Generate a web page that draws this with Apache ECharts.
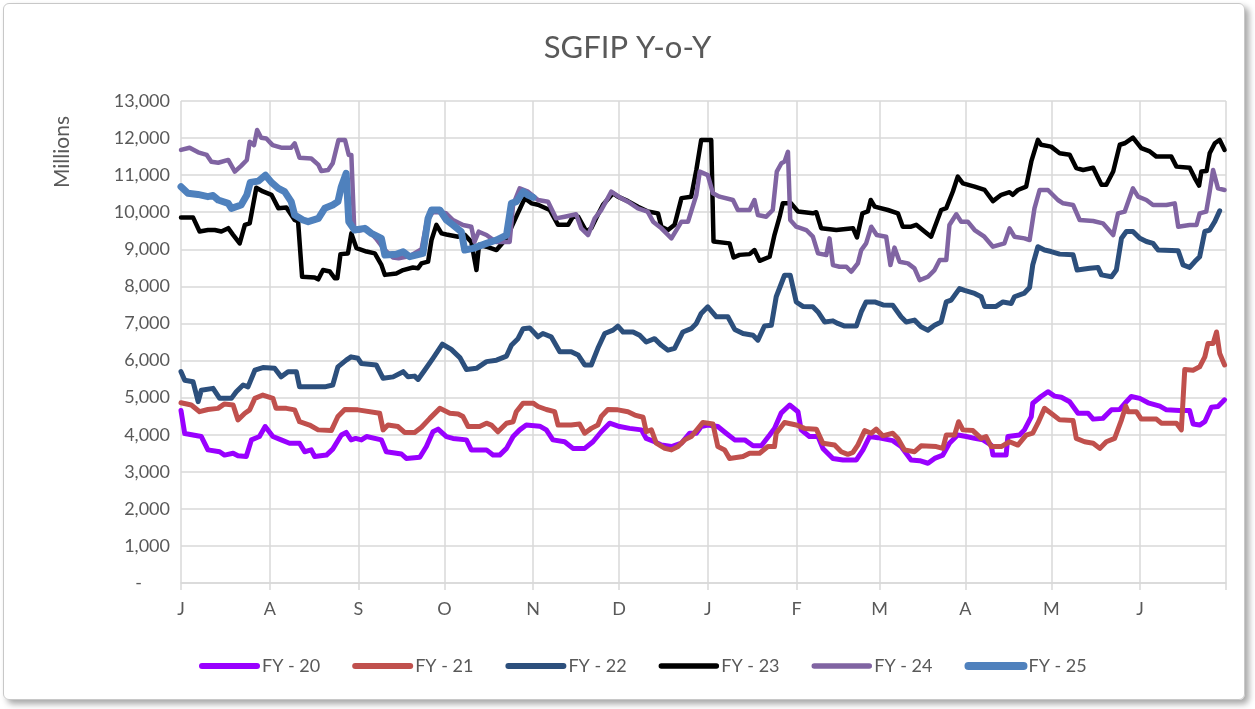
<!DOCTYPE html>
<html>
<head>
<meta charset="utf-8">
<script src="https://cdn.jsdelivr.net/npm/echarts@6/dist/echarts.min.js"></script>
<style>
  html, body { margin: 0; padding: 0; background: #fff; }
  #chart { width: 1255px; height: 709px; }
  #frame {
    position: absolute; left: 3px; top: 3px; width: 1240px; height: 695px;
    border: 1px solid #c8c8c8; border-radius: 6px;
    box-shadow: 4px 4px 6px rgba(0, 0, 0, 0.35);
    pointer-events: none;
  }
</style>
</head>
<body>
<div id="chart"></div>
<div id="frame"></div>
<script>
// month starts (day of fiscal year) and their labels
const monthDays = [0, 31, 62, 92, 123, 153, 184, 215, 244, 274, 304, 335, 365];
const monthLabels = ['J', 'A', 'S', 'O', 'N', 'D', 'J', 'F', 'M', 'A', 'M', 'J'];
const seriesNames = ['FY - 20', 'FY - 21', 'FY - 22', 'FY - 23', 'FY - 24', 'FY - 25'];

// [day, value]
const fy20 = [[0,4650],[1.3,4030],[4.2,3990],[7.1,3950],[9.4,3590],[13.5,3540],[15.2,3450],[18.2,3500],[19.9,3430],[22.8,3410],[24.6,3860],[27.4,3950],[29.4,4220],[32.1,3950],[35,3860],[37.9,3770],[41.4,3770],[43.2,3540],[45.5,3590],[46.7,3410],[50.8,3450],[53,3610],[56,3990],[57.7,4060],[59.4,3860],[61,3900],[63,3860],[64.8,3950],[70,3860],[71.7,3540],[77,3480],[78.7,3360],[83.4,3390],[85.7,3680],[88,4080],[89.8,4150],[92.7,3950],[95,3900],[99.7,3860],[101.4,3590],[106.7,3590],[109,3450],[111.3,3450],[113.7,3630],[116,3950],[118.3,4130],[120.6,4260],[125.3,4230],[127.6,4130],[129.9,3860],[134,3810],[136.9,3630],[141,3630],[143.9,3810],[146.8,4080],[149.7,4310],[153.2,4220],[156.7,4170],[160.8,4130],[162.5,3900],[165.4,3810],[167.8,3720],[171.3,3680],[174.8,3770],[177.7,4040],[180,4040],[181.7,4220],[184,4260],[187.5,4220],[190.4,4040],[193.4,3860],[196.9,3860],[199.8,3700],[202.7,3700],[205.6,3990],[207.3,4170],[209.6,4580],[212.6,4800],[215.5,4620],[216.6,4130],[219.5,3950],[222.5,3950],[224.2,3630],[227.7,3360],[231.2,3320],[235.9,3320],[238.2,3590],[240.5,3950],[243.4,3920],[248.6,3840],[251.5,3680],[255,3320],[258,3300],[260.9,3230],[263.2,3360],[266.1,3450],[268.4,3770],[271.3,3990],[274.3,3950],[277.2,3900],[280.1,3860],[283,3720],[283.6,3450],[288.2,3450],[288.8,3950],[292.9,3990],[294.6,4130],[297,4490],[297.5,4850],[300.4,5030],[302.8,5160],[305.1,5040],[307.5,5010],[310.4,4890],[313.3,4580],[316.8,4580],[318.6,4420],[322,4440],[325,4670],[327.9,4680],[330.2,4890],[331.9,5030],[334.9,4980],[337.8,4860],[341.9,4770],[344.2,4670],[348.8,4650],[352.3,4650],[353.5,4290],[355.8,4260],[357.6,4350],[359.9,4740],[362.2,4760],[364.5,4940]];

const fy21 = [[0,4860],[3.6,4800],[6.5,4620],[9.4,4680],[12.9,4710],[15.2,4830],[18.2,4800],[19.9,4400],[22.3,4580],[24,4670],[25.8,4980],[28.6,5070],[32.1,4980],[33.2,4710],[36.8,4710],[39.7,4670],[41.4,4350],[44.9,4260],[47.9,4130],[52.5,4110],[54.8,4490],[57.2,4680],[61.8,4670],[69.4,4580],[70.6,4130],[72.3,4260],[75.8,4220],[78.1,4060],[81.6,4060],[84,4200],[86.9,4440],[90.4,4710],[93.9,4580],[96.8,4560],[98.5,4490],[100.3,4220],[104.3,4220],[106.7,4310],[108.4,4260],[110.7,4080],[113.7,4310],[116,4350],[117.1,4620],[119.5,4850],[123,4850],[124.7,4760],[127.6,4680],[130.5,4620],[131.7,4260],[136.3,4260],[139.2,4290],[141,4040],[143.3,4170],[145.6,4260],[146.8,4490],[149.1,4680],[152.6,4670],[156.1,4620],[158.5,4530],[161.4,4470],[162.5,4080],[164.3,4130],[166,3770],[169,3630],[171.3,3590],[173.6,3680],[175.9,3860],[178.2,3950],[180.6,4170],[182.3,4330],[185.8,4290],[187.5,3680],[189.9,3590],[191.6,3360],[196.3,3410],[198.6,3500],[202.1,3500],[205,3680],[207.3,3680],[207.9,4040],[210.8,4330],[214.9,4260],[217.8,4170],[221.9,4150],[224.2,3770],[228.3,3720],[230.6,3540],[232.9,3470],[234.7,3520],[236.4,3720],[238.8,4110],[241.1,4040],[242.8,4150],[245.1,3970],[248.6,4040],[250.4,3900],[252.7,3590],[256.2,3540],[258.5,3700],[263.8,3680],[266.1,3630],[267.3,3990],[270.2,3990],[271.6,4350],[273.1,4130],[276.6,4110],[279.5,3900],[281.2,3950],[283,3680],[286.5,3680],[289.4,3810],[292.3,3720],[295.2,3990],[297.5,4040],[299.3,4310],[301.6,4710],[303.9,4580],[306.9,4400],[311.6,4380],[312.7,3900],[315.6,3810],[318.6,3770],[320.9,3630],[323.2,3810],[326.1,3900],[328.5,4400],[330,4770],[330.8,4620],[333.7,4620],[335.4,4420],[340.7,4420],[342.4,4310],[347.7,4310],[349.4,4130],[350.6,5760],[353.5,5740],[355.8,5830],[357.6,6100],[358.7,6460],[360.5,6460],[361.7,6770],[362.8,6190],[364.5,5880]];

const fy22 = [[0,5700],[1.3,5470],[4.2,5430],[6,4890],[7.1,5200],[11.2,5250],[13.5,4980],[17.6,4980],[19.3,5160],[21.7,5340],[23.4,5290],[25.8,5740],[28.6,5810],[32.7,5790],[35,5560],[37.4,5700],[40.3,5700],[41.4,5290],[50.2,5290],[53,5340],[54.8,5830],[57.7,6010],[59.4,6100],[61.8,6060],[63,5920],[68.2,5880],[70.6,5520],[74.1,5560],[77.6,5700],[79.3,5560],[81.6,5580],[82.8,5490],[85.1,5740],[88,6060],[91.3,6440],[94.4,6300],[97.4,6080],[99.7,5760],[103.2,5790],[106.7,5970],[110.2,6010],[113.7,6120],[115.4,6410],[117.7,6590],[119.5,6860],[121.8,6880],[124.7,6640],[126.4,6730],[129.3,6640],[132.3,6240],[136.3,6240],[138.7,6150],[141,5880],[143.3,5880],[145.6,6330],[148,6730],[150.9,6820],[152.6,6930],[154.4,6770],[157.9,6770],[160.2,6680],[162.5,6500],[165.4,6590],[167.8,6410],[170.1,6280],[172.4,6330],[175.3,6770],[178.2,6860],[180,7000],[181.7,7270],[184,7450],[187,7180],[191,7180],[193.4,6840],[196.3,6730],[199.8,6680],[201.5,6550],[203.8,6930],[206.2,6950],[207.9,7720],[210.8,8300],[212.8,8300],[214.9,7580],[217.2,7460],[220.7,7450],[222.5,7310],[224.8,7040],[227.7,7070],[229.4,7000],[231.8,6930],[235.9,6930],[237.6,7310],[239.3,7580],[242.3,7580],[245.2,7500],[248.6,7490],[251.5,7180],[253.3,7040],[256.2,7090],[258.5,6910],[260.9,6820],[263.2,6950],[265.5,7040],[267.3,7580],[269,7630],[271.9,7940],[273.7,7890],[277.2,7810],[279.5,7720],[280.7,7460],[284.7,7460],[287.1,7580],[290,7540],[291.1,7720],[294.6,7820],[296.4,7970],[297.5,8580],[299.3,9070],[301.6,8980],[303.9,8940],[306.9,8870],[311.6,8850],[313,8440],[317.4,8490],[320.3,8510],[321.5,8310],[325,8260],[326.7,8440],[328.5,9300],[330.2,9480],[332.5,9480],[334.9,9300],[337.2,9210],[339.5,9160],[341.3,8980],[348.3,8960],[350,8580],[352.3,8510],[354.1,8670],[355.8,8800],[357.6,9480],[359.3,9520],[361.1,9750],[362.8,10040]];

const fy23 = [[0,9860],[4.2,9860],[6.5,9480],[9.4,9520],[11.8,9520],[14.1,9480],[16.5,9570],[18.2,9390],[20.5,9160],[22.3,9660],[24,9700],[26.3,10660],[28.6,10560],[31.6,10470],[34,10110],[36.8,10130],[39.7,9790],[40.9,9750],[42.3,8260],[46.7,8240],[47.9,8190],[49.6,8440],[52,8400],[53.7,8220],[54.6,8220],[55.7,8870],[58.3,8890],[59.5,9430],[60.1,9390],[61.3,9030],[64.8,8940],[67.7,8890],[70,8580],[71.2,8310],[75.2,8350],[77.6,8440],[81,8510],[82.8,8490],[84,8620],[86.3,8670],[87.5,9250],[89.2,9660],[91,9430],[92.7,9400],[96.8,9340],[99.1,9390],[101.4,9200],[103.2,8440],[104.1,9120],[106.7,9070],[110.2,8980],[113.7,9300],[117.1,9880],[120.1,10380],[122.4,10240],[124.7,10200],[128.8,10060],[131.7,9660],[135.2,9660],[136.9,9880],[138.7,9880],[141.6,9480],[143.3,9570],[145.6,9930],[147.4,10200],[150.9,10510],[152.6,10420],[156.1,10300],[159.6,10150],[163.1,10020],[166.6,9970],[167.8,9610],[170.1,9520],[172.4,9660],[174.8,10380],[178.2,10420],[180,11140],[181.7,11950],[185.2,11950],[186,9210],[191.6,9160],[193,8780],[195.1,8850],[198.6,8870],[200.3,8980],[202.1,8690],[205.6,8800],[207.3,9390],[209.1,9880],[210.2,10240],[213.1,10240],[215.5,10020],[220.7,9970],[221.9,10000],[223.6,9570],[228.9,9520],[234.7,9570],[236.1,9320],[238,9970],[239.9,10020],[240.9,10330],[242.3,10150],[246.9,10060],[250.4,9970],[252.1,9610],[255,9610],[256.8,9660],[259.7,9480],[262,9340],[265.5,10060],[267.3,10110],[269.6,10560],[271.3,10960],[273.1,10780],[277.2,10690],[280.7,10600],[283.6,10300],[286.5,10470],[289.4,10540],[290.5,10470],[292.3,10600],[295.2,10690],[297,11370],[299.3,11950],[300.4,11820],[303.9,11770],[306.9,11590],[310.4,11550],[312.7,11190],[315.1,11140],[318.6,11200],[321.5,10740],[323.2,10740],[325.6,11100],[327.9,11820],[329.6,11860],[332.5,12010],[335.4,11730],[338.4,11640],[340.7,11500],[345.9,11500],[347.7,11230],[352.3,11200],[354.1,10920],[355.6,10720],[356.4,11100],[358.2,11110],[359.3,11590],[361.1,11860],[362.8,11950],[364.5,11680]];

const fy24 = [[0,11680],[3,11740],[6,11615],[9,11545],[10.6,11360],[13,11335],[16.5,11410],[18.8,11095],[21,11250],[23,11410],[24,11900],[25.5,11810],[26.6,12220],[28,12010],[29.8,11990],[32,11810],[35,11740],[38.5,11740],[39.7,11860],[41.4,11470],[45.5,11450],[48,11275],[49,11110],[51.4,11140],[53,11320],[55,11950],[57.3,11950],[58.6,11545],[59.5,11545],[60.5,9560],[62,9500],[65,9560],[68,9300],[71,9000],[74,8780],[76,8760],[80,8820],[84,9000],[86,9800],[88,10000],[90,10000],[92.6,9970],[95,9790],[98.5,9655],[101.4,9610],[102.5,9200],[104,9475],[106.7,9385],[110,9200],[114.8,9200],[116,10200],[118.3,10645],[121.2,10555],[124.7,10330],[128.2,10285],[131,9835],[134,9880],[138,9945],[139.8,9565],[142.2,9385],[144.5,9835],[146.8,10060],[150.3,10555],[153.8,10375],[156.1,10285],[159.6,10105],[163,10015],[164.9,9745],[167.8,9565],[171.3,9295],[174.8,9745],[177.1,9745],[180,10465],[181.2,11095],[184,11000],[185.8,10510],[188.1,10420],[192.8,10330],[194.5,10060],[198.6,10060],[200.3,10330],[201.5,9925],[204.4,9880],[206.7,10060],[208.1,11095],[209.7,11320],[210.8,11365],[212,11630],[212.8,9790],[214.9,9610],[218.4,9520],[220.7,9340],[222.5,8890],[225.4,8845],[226.5,9295],[227.7,8575],[230,8530],[232.4,8530],[234.1,8395],[236.4,8620],[237.6,8980],[239.3,9160],[241.1,9610],[243,9385],[246.3,9340],[247.8,8575],[249.2,9045],[251,8665],[253.9,8620],[256.2,8485],[258,8170],[260.9,8260],[263.2,8440],[265,8710],[267.3,8710],[268.4,9655],[270.8,9945],[272.5,9745],[274.8,9745],[277.2,9520],[280.6,9340],[283.6,9070],[287.6,9160],[289.4,9565],[291.1,9340],[294.6,9295],[296.4,9250],[298.1,10105],[299.9,10600],[302.8,10600],[306.3,10330],[308.1,10240],[311.6,10195],[313.9,9790],[318.6,9765],[322,9700],[325.6,9385],[327.3,9970],[329.6,10015],[332.5,10645],[334.3,10420],[337.2,10330],[339.5,10195],[344.2,10195],[347.1,10240],[348.3,9610],[352.3,9655],[354.7,9655],[355.8,9970],[358.1,10015],[359.3,10555],[360.5,11140],[362.2,10645],[364.5,10600]];

const fy25 = [[0,10690],[2.4,10510],[5.9,10480],[9.4,10420],[11.2,10450],[13,10330],[16.5,10240],[17.6,10105],[21,10195],[23,10465],[24.2,10805],[27,10840],[29.5,11000],[31.6,10805],[34,10645],[36.2,10555],[38.5,10285],[39.7,9925],[42.6,9790],[44.4,9745],[48,9835],[50.2,10105],[53,10195],[54.8,10285],[56,10690],[57.7,11050],[58.6,9745],[60.6,9520],[64.2,9565],[66.5,9430],[70,9295],[71.2,8845],[75.2,8865],[77.6,8935],[79.9,8800],[84.5,8890],[86.3,9835],[87.5,10060],[90.4,10060],[92.7,9790],[95,9655],[97.9,9475],[99.1,8980],[102,9025],[106.7,9160],[110.2,9250],[113.7,9385],[115.4,10240],[117.1,10285],[119.5,10555],[121.2,10465],[123,10400]];

const allData = [fy20, fy21, fy22, fy23, fy24, fy25];
const colors = ['#9900FF', '#C0504D', '#2C4F7C', '#000000', '#8064A2', '#4F81BD'];
const widths = [5, 5, 5, 4.5, 4.5, 7];

const chart = echarts.init(document.getElementById('chart'));
const font = 'Lato, "Open Sans", sans-serif';

const option = {
  animation: false,
  backgroundColor: '#ffffff',
  title: {
    text: 'SGFIP Y-o-Y',
    left: 'center',
    top: 27,
    textStyle: { fontFamily: font, fontSize: 31, fontWeight: 'normal', color: '#595959' }
  },
  graphic: [{
    type: 'text',
    x: 62, y: 152,
    rotation: Math.PI / 2,
    style: {
      text: 'Millions', fontFamily: font, fontSize: 21, fill: '#595959',
      align: 'center', verticalAlign: 'middle'
    }
  }],
  legend: {
    data: seriesNames.map((n, i) => ({ name: n, lineStyle: { width: widths[i] + 1 } })),
    top: 652,
    left: 194,
    itemWidth: 55,
    itemHeight: 12,
    itemGap: 32,
    itemStyle: { opacity: 0 },
    textStyle: { fontFamily: font, fontSize: 18, color: '#595959' }
  },
  grid: { left: 181, right: 29, top: 101, bottom: 126 },
  xAxis: {
    type: 'value',
    min: 0,
    max: 365,
    axisLine: { show: true, lineStyle: { color: '#d9d9d9', width: 1.5 } },
    axisTick: { show: true, length: 7, customValues: monthDays, lineStyle: { color: '#d9d9d9', width: 1.5 } },
    splitLine: { show: true, lineStyle: { color: '#d9d9d9', width: 1.5 } },
    axisLabel: {
      customValues: monthDays.slice(0, 12),
      formatter: (v) => monthLabels[monthDays.indexOf(v)] || '',
      fontFamily: font, fontSize: 18, color: '#595959', margin: 17
    }
  },
  yAxis: {
    type: 'value',
    min: 0,
    max: 13000,
    interval: 1000,
    axisLine: { show: false },
    axisTick: { show: false },
    splitLine: { lineStyle: { color: '#d9d9d9', width: 1.5 } },
    axisLabel: {
      margin: 11,
      fontFamily: font, fontSize: 18, color: '#595959',
      formatter: (v) => v === 0 ? '{z|-}' : v.toLocaleString('en-US'),
      rich: { z: { padding: [0, 28, 0, 0], fontFamily: font, fontSize: 18, color: '#595959' } }
    }
  },
  series: allData.map((d, i) => ({
    name: seriesNames[i],
    type: 'line',
    data: d,
    symbol: 'none',
    color: colors[i],
    lineStyle: { color: colors[i], width: widths[i], join: 'round', cap: 'round' },
    z: 2 + i
  }))
};

chart.setOption(option);
</script>
</body>
</html>
